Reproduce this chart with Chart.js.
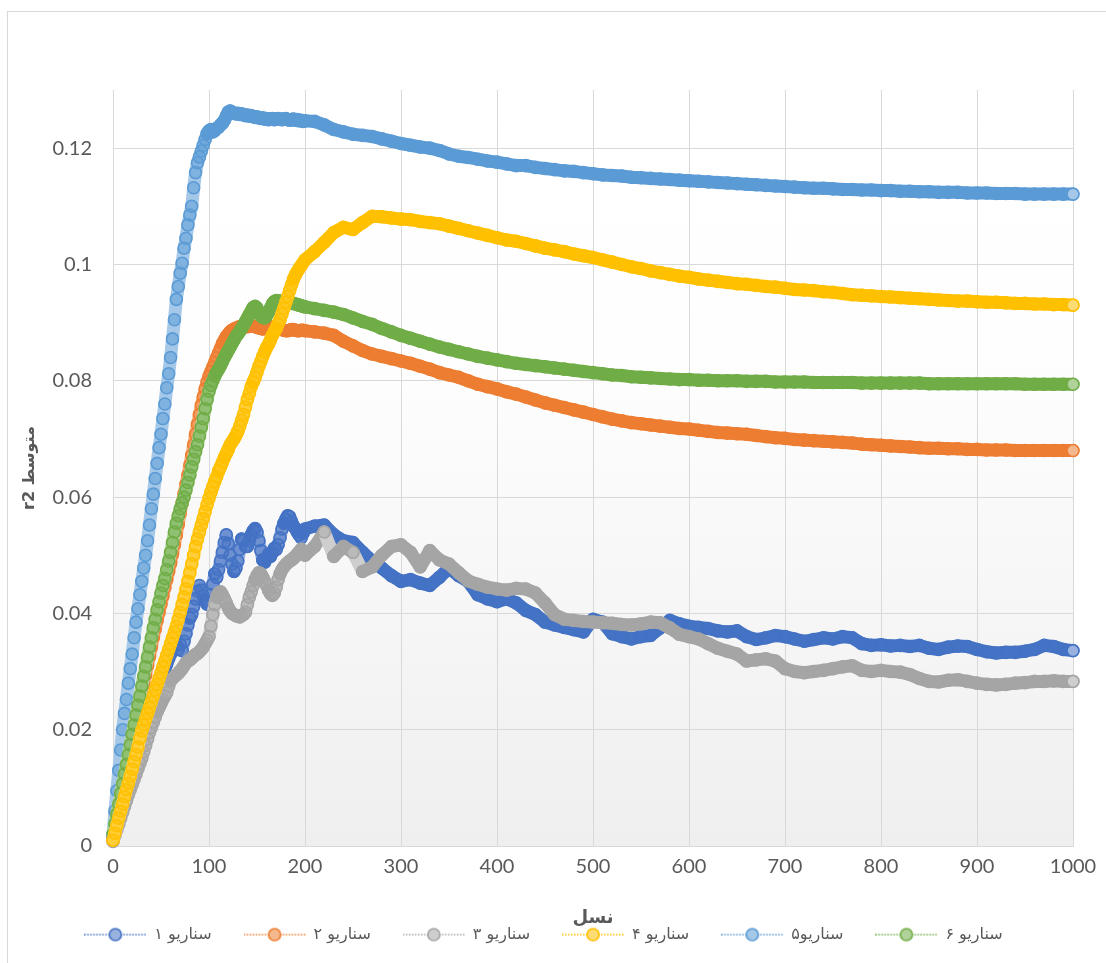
<!DOCTYPE html>
<html><head><meta charset="utf-8">
<script src="https://cdn.jsdelivr.net/npm/chart.js@4.4.1/dist/chart.umd.min.js"></script>
<style>html,body{margin:0;padding:0;background:#fff;}#wrap{position:relative;width:1106px;height:963px;}</style>
</head><body><div id="wrap"><canvas id="c" width="1106" height="963"></canvas></div>
<script>
// ---------- DATA ----------
const genEarly = [0,2,4,6,8,10,12,14,16,18,20,22,24,26,28,30,32,34,36,38,40,42,44,46,48,50,52,54,56,58,60,62,64,66,68,70,72,74,76,78,80,82,84,86,88,90,92,94,96,98,100,102,104,106,108,110,112,114,116,118,120,122,124,126,128,130,132,134,136,138,140,142,144,146,148,150,152,154,156,158,160,162,164,166,168,170,172,174,176,178,180,182,184,186,188,190,192,194,196,198,200];
const genLate = [210,220,230,240,250,260,270,280,290,300,310,320,330,340,350,360,370,380,390,400,410,420,430,440,450,460,470,480,490,500,510,520,530,540,550,560,570,580,590,600,610,620,630,640,650,660,670,680,690,700,710,720,730,740,750,760,770,780,790,800,810,820,830,840,850,860,870,880,890,900,910,920,930,940,950,960,970,980,990,1000];

const s1Early = [.0015,.0027,.0040,.0052,.0064,.0076,.0088,.0099,.0110,.0121,
.0132,.0143,.0154,.0165,.0176,.0187,.0197,.0207,.0217,.0227,
.0237,.0247,.0257,.0266,.0276,.0285,.0294,.0304,.0313,.0322,
.0330,.0342,.0352,.0345,.0338,.0346,.0336,.0352,.0365,.0380,
.0392,.0398,.0412,.0425,.0438,.0448,.0440,.0430,.0422,.0416,
.0420,.0432,.0450,.0468,.0462,.0475,.0490,.0505,.0522,.0535,
.0520,.0500,.0485,.0472,.0478,.0490,.0510,.0528,.0525,.0515,
.0515,.0525,.0535,.0542,.0546,.0540,.0525,.0508,.0492,.0488,
.0495,.0502,.0498,.0505,.0512,.0510,.0518,.0530,.0545,.0555,
.0562,.0568,.0566,.0558,.0550,.0546,.0540,.0535,.0530,.0538,
.0545];
const s1Late = [.0550,.0552,.0535,.0525,.0522,.0505,.0490,.0478,.0465,.0455,
.0458,.0452,.0448,.0462,.0478,.0465,.0455,.0432,.0425,.0420,
.0425,.0418,.0405,.0398,.0385,.0380,.0376,.0372,.0368,.0390,
.0385,.0365,.0360,.0356,.0360,.0362,.0375,.0388,.0382,.0378,
.0376,.0374,.0370,.0368,.0370,.0360,.0355,.0358,.0362,.0360,
.0356,.0352,.0355,.0358,.0356,.0360,.0358,.0348,.0345,.0346,
.0344,.0345,.0343,.0345,.0340,.0338,.0342,.0344,.0343,.0338,
.0334,.0332,.0333,.0333,.0335,.0338,.0345,.0343,.0338,.0336];

const s2Early = [.0010,.0028,.0045,.0062,.0078,.0095,.0112,.0128,.0145,.0162,
.0178,.0195,.0212,.0228,.0245,.0262,.0278,.0294,.0310,.0326,
.0342,.0358,.0373,.0388,.0402,.0416,.0430,.0444,.0458,.0472,
.0486,.0502,.0518,.0535,.0553,.0572,.0590,.0606,.0622,.0638,
.0655,.0672,.0690,.0708,.0725,.0742,.0758,.0772,.0786,.0798,
.0808,.0816,.0824,.0832,.0840,.0848,.0856,.0864,.0870,.0876,
.0880,.0884,.0887,.0889,.0890,.0892,.0893,.0894,.0895,.0894,
.0893,.0894,.0895,.0894,.0893,.0892,.0891,.0890,.0889,.0890,
.0891,.0892,.0893,.0892,.0891,.0890,.0890,.0889,.0888,.0887,
.0886,.0886,.0887,.0888,.0888,.0887,.0886,.0886,.0887,.0887,
.0886];
const s2Late = [.0884,.0882,.0878,.0868,.0860,.0852,.0846,.0842,.0838,.0834,
.0830,.0825,.0820,.0814,.0810,.0806,.0800,.0794,.0790,.0786,
.0781,.0777,.0772,.0767,.0762,.0758,.0754,.0750,.0746,.0742,
.0738,.0734,.0731,.0728,.0726,.0724,.0722,.0720,.0718,.0717,
.0715,.0713,.0711,.0710,.0709,.0708,.0706,.0704,.0702,.0701,
.0699,.0698,.0697,.0696,.0695,.0694,.0693,.0691,.0690,.0689,
.0688,.0687,.0686,.0685,.0684,.0684,.0683,.0683,.0682,.0682,
.0681,.0681,.0681,.0680,.0680,.0680,.0680,.0680,.0680,.0680];

const s3Early = [.0008,.0018,.0028,.0038,.0048,.0058,.0068,.0078,.0088,.0097,
.0106,.0115,.0124,.0133,.0142,.0151,.0162,.0173,.0184,.0195,
.0204,.0213,.0222,.0231,.0238,.0245,.0252,.0258,.0264,.0275,
.0284,.0288,.0291,.0294,.0297,.0301,.0305,.0310,.0315,.0318,
.0320,.0323,.0326,.0329,.0331,.0334,.0338,.0342,.0348,.0354,
.0360,.0378,.0398,.0415,.0428,.0435,.0437,.0432,.0425,.0418,
.0410,.0404,.0400,.0398,.0396,.0395,.0394,.0396,.0398,.0402,
.0415,.0428,.0437,.0448,.0458,.0465,.0470,.0468,.0462,.0455,
.0448,.0440,.0434,.0431,.0435,.0445,.0458,.0468,.0475,.0480,
.0484,.0487,.0490,.0492,.0495,.0498,.0502,.0506,.0510,.0506,
.0500];
const s3Late = [.0515,.0540,.0498,.0515,.0505,.0472,.0480,.0500,.0515,.0518,
.0505,.0480,.0508,.0492,.0485,.0470,.0456,.0450,.0445,.0442,
.0440,.0443,.0442,.0435,.0418,.0398,.0390,.0388,.0386,.0385,
.0384,.0383,.0381,.0380,.0382,.0385,.0384,.0375,.0364,.0360,
.0356,.0348,.0340,.0335,.0330,.0318,.0320,.0322,.0318,.0305,
.0300,.0298,.0300,.0302,.0305,.0308,.0310,.0302,.0300,.0302,
.0300,.0299,.0295,.0288,.0283,.0282,.0285,.0286,.0283,.0280,
.0278,.0277,.0278,.0280,.0281,.0283,.0283,.0284,.0283,.0283];

const s4Early = [.0010,.0022,.0035,.0048,.0060,.0072,.0085,.0097,.0108,.0120,
.0132,.0145,.0157,.0170,.0185,.0198,.0208,.0218,.0228,.0238,
.0248,.0258,.0268,.0278,.0288,.0298,.0308,.0318,.0328,.0338,
.0348,.0358,.0368,.0378,.0390,.0402,.0415,.0428,.0442,.0455,
.0470,.0485,.0500,.0515,.0528,.0540,.0552,.0563,.0575,.0587,
.0598,.0608,.0618,.0627,.0635,.0645,.0652,.0660,.0668,.0675,
.0682,.0690,.0695,.0700,.0706,.0713,.0722,.0732,.0742,.0755,
.0768,.0778,.0790,.0798,.0805,.0815,.0825,.0833,.0842,.0850,
.0857,.0863,.0870,.0878,.0884,.0890,.0898,.0905,.0915,.0925,
.0935,.0945,.0955,.0965,.0975,.0982,.0988,.0993,.0998,.1003,
.1008];
const s4Late = [.1022,.1038,.1055,.1064,.1060,.1072,.1083,.1082,.1080,.1078,
.1077,.1074,.1072,.1070,.1066,.1062,.1058,.1054,.1050,.1046,
.1042,.1040,.1036,.1032,.1028,.1025,.1022,.1018,.1015,.1012,
.1008,.1004,.1000,.0996,.0993,.0989,.0986,.0983,.0980,.0978,
.0975,.0973,.0971,.0969,.0967,.0966,.0964,.0962,.0961,.0959,
.0957,.0956,.0955,.0953,.0952,.0950,.0948,.0947,.0946,.0945,
.0944,.0943,.0942,.0941,.0940,.0939,.0938,.0937,.0937,.0936,
.0935,.0935,.0934,.0933,.0933,.0932,.0932,.0931,.0931,.0930];

const s5Early = [.0020,.0060,.0095,.0130,.0165,.0200,.0228,.0252,.0280,.0305,
.0330,.0358,.0385,.0408,.0432,.0455,.0478,.0500,.0525,.0552,
.0580,.0605,.0632,.0658,.0685,.0708,.0735,.0760,.0788,.0812,
.0840,.0872,.0905,.0940,.0962,.0985,.1002,.1028,.1045,.1068,
.1085,.1100,.1132,.1158,.1175,.1185,.1195,.1205,.1215,.1225,
.1230,.1232,.1228,.1230,.1234,.1236,.1240,.1243,.1248,.1255,
.1262,.1264,.1262,.1260,.1259,.1260,.1258,.1259,.1257,.1256,
.1257,.1255,.1256,.1254,.1253,.1254,.1252,.1251,.1252,.1250,
.1251,.1249,.1250,.1251,.1249,.1250,.1251,.1250,.1249,.1250,
.1251,.1249,.1248,.1249,.1250,.1248,.1249,.1247,.1248,.1246,
.1247];
const s5Late = [.1246,.1240,.1232,.1228,.1224,.1222,.1220,.1216,.1212,.1208,
.1205,.1202,.1200,.1196,.1190,.1186,.1184,.1181,.1178,.1176,
.1173,.1170,.1170,.1167,.1165,.1163,.1161,.1160,.1158,.1156,
.1154,.1153,.1152,.1150,.1149,.1148,.1147,.1146,.1145,.1144,
.1143,.1142,.1141,.1140,.1139,.1138,.1137,.1136,.1135,.1134,
.1133,.1132,.1131,.1131,.1130,.1129,.1129,.1128,.1128,.1127,
.1127,.1126,.1126,.1125,.1125,.1124,.1124,.1124,.1123,.1123,
.1123,.1122,.1122,.1122,.1121,.1121,.1121,.1121,.1121,.1121];

const s6Early = [.0020,.0038,.0055,.0072,.0090,.0107,.0124,.0140,.0157,.0174,
.0192,.0208,.0225,.0242,.0258,.0275,.0292,.0308,.0325,.0342,
.0358,.0375,.0390,.0406,.0420,.0435,.0448,.0460,.0475,.0490,
.0505,.0522,.0540,.0555,.0568,.0580,.0590,.0600,.0612,.0625,
.0638,.0652,.0665,.0678,.0690,.0705,.0720,.0735,.0752,.0768,
.0782,.0792,.0800,.0808,.0815,.0820,.0826,.0833,.0840,.0846,
.0852,.0858,.0864,.0870,.0876,.0880,.0885,.0890,.0896,.0902,
.0908,.0914,.0920,.0926,.0928,.0925,.0918,.0912,.0909,.0908,
.0912,.0918,.0925,.0932,.0936,.0938,.0937,.0937,.0936,.0936,
.0935,.0935,.0934,.0933,.0933,.0932,.0931,.0930,.0929,.0928,
.0927];
const s6Late = [.0924,.0921,.0918,.0914,.0908,.0902,.0897,.0890,.0884,.0878,
.0873,.0868,.0863,.0858,.0854,.0850,.0846,.0842,.0839,.0836,
.0833,.0830,.0828,.0826,.0824,.0822,.0820,.0818,.0816,.0814,
.0812,.0810,.0809,.0807,.0806,.0805,.0804,.0803,.0802,.0802,
.0801,.0801,.0800,.0800,.0800,.0799,.0799,.0799,.0798,.0798,
.0798,.0798,.0797,.0797,.0797,.0797,.0797,.0796,.0796,.0796,
.0796,.0796,.0796,.0796,.0795,.0795,.0795,.0795,.0795,.0795,
.0795,.0795,.0795,.0795,.0794,.0794,.0794,.0794,.0794,.0794];

const seriesNames = ['سناریو ۱','سناریو ۲','سناریو ۳','سناریو ۴','سناریو۵','سناریو ۶'];
const seriesColors = ['#4472C4','#ED7D31','#A5A5A5','#FFC000','#5B9BD5','#70AD47'];
const drawOrder = [6,3,5,1,4,2];
const xTicks = [0,100,200,300,400,500,600,700,800,900,1000];
const yTicks = [0,0.02,0.04,0.06,0.08,0.1,0.12];
const xTitle = 'نسل';
const yTitle = 'متوسط r2';

// ---------- BUILD ----------
const generations = genEarly.concat(genLate);
const seriesValues = [
  s1Early.concat(s1Late), s2Early.concat(s2Late), s3Early.concat(s3Late),
  s4Early.concat(s4Late), s5Early.concat(s5Late), s6Early.concat(s6Late)
];

function hexRgb(h){ const n = parseInt(h.slice(1),16); return [(n>>16)&255,(n>>8)&255,n&255]; }
function rgba(h,a){ const c=hexRgb(h); return `rgba(${c[0]},${c[1]},${c[2]},${a})`; }
function tint(h,f){ const c=hexRgb(h).map(v=>Math.round(v+(255-v)*f)); return `rgb(${c[0]},${c[1]},${c[2]})`; }

const steep = ctx => {
  const dx = Math.abs(ctx.p1.x - ctx.p0.x), dy = Math.abs(ctx.p1.y - ctx.p0.y);
  return dy > 1.6*dx + 1;
};

function makeIcon(color){
  const c = document.createElement('canvas'); c.width = 62; c.height = 16;
  const g = c.getContext('2d');
  g.strokeStyle = color; g.lineWidth = 1.5; g.setLineDash([1.5,1.5]);
  g.beginPath(); g.moveTo(0,8); g.lineTo(62,8); g.stroke();
  g.setLineDash([]);
  g.beginPath(); g.arc(31,8,6,0,Math.PI*2);
  g.fillStyle = tint(color,0.45); g.fill(); g.lineWidth = 1.7; g.stroke();
  return c;
}
const icons = seriesColors.map(makeIcon);

const datasets = seriesNames.map((name,i) => {
  const color = seriesColors[i];
  const vals = seriesValues[i];
  const n = vals.length;
  return {
    label: name,
    data: generations.map((g,k) => ({x: g, y: vals[k]})),
    borderColor: color,
    borderWidth: 13,
    borderCapStyle: 'round',
    borderJoinStyle: 'round',
    segment: { borderColor: ctx => steep(ctx) ? tint(color,0.45) : color },
    pointRadius: 6,
    pointHoverRadius: 6,
    pointBorderWidth: 1.6,
    pointBorderColor: color,
    pointBackgroundColor: ctx => (ctx.dataIndex === n-1) ? tint(color,0.45) : rgba(color,0.5),
    tension: 0,
    fill: false,
    clip: false,
    order: drawOrder[i]
  };
});

const bgPlugin = {
  id: 'bg',
  beforeDraw(chart){
    const {ctx, chartArea: a} = chart;
    ctx.save();
    ctx.fillStyle = '#ffffff';
    ctx.fillRect(0,0,chart.width,chart.height);
    const gr = ctx.createLinearGradient(0,a.top,0,a.bottom);
    gr.addColorStop(0,'#ffffff');
    gr.addColorStop(0.35,'#fefefe');
    gr.addColorStop(1,'#efefef');
    ctx.fillStyle = gr;
    ctx.fillRect(a.left,a.top,a.right-a.left,a.bottom-a.top);
    ctx.strokeStyle = '#d9d9d9'; ctx.lineWidth = 1;
    ctx.strokeRect(7.5,11.5,chart.width+10,chart.height+10);
    ctx.restore();
  }
};

Chart.defaults.font.family = 'Lato, "DejaVu Sans", sans-serif';
Chart.defaults.color = '#595959';

new Chart(document.getElementById('c'), {
  type: 'line',
  data: { datasets },
  options: {
    responsive: false,
    animation: false,
    devicePixelRatio: 1,
    layout: { padding: { left: 14, right: 33, top: 90, bottom: 10.4 } },
    plugins: {
      tooltip: { enabled: false },
      legend: {
        position: 'bottom',
        labels: {
          usePointStyle: true,
          pointStyleWidth: 62,
          padding: 32,
          color: '#595959',
          font: { family: '"DejaVu Sans"', size: 16 },
          generateLabels: chart => chart.data.datasets.map((ds,i) => ({
            text: ds.label, pointStyle: icons[i], fillStyle: ds.borderColor,
            strokeStyle: ds.borderColor, lineWidth: 0, hidden: false,
            datasetIndex: i, fontColor: '#595959'
          }))
        }
      }
    },
    scales: {
      x: {
        type: 'linear', min: 0, max: 1000,
        afterBuildTicks: s => { s.ticks = xTicks.map(v => ({value: v})); },
        afterFit: s => { s.height = 48.6; },
        grid: { color: '#d9d9d9', drawTicks: false },
        border: { color: '#d9d9d9' },
        ticks: { padding: 9, color: '#595959', font: { size: 20 },
          callback: v => String(v) },
        title: { display: true, text: xTitle, color: '#595959',
          font: { family: '"DejaVu Sans"', size: 18, weight: 'bold' },
          padding: { top: 0, bottom: -34.4 } }
      },
      y: {
        type: 'linear', min: 0, max: 0.13,
        afterBuildTicks: s => { s.ticks = yTicks.map(v => ({value: v})); },
        afterFit: s => { s.width = 99; },
        grid: { color: '#d9d9d9', drawTicks: false },
        border: { color: '#d9d9d9' },
        ticks: { padding: 21, color: '#595959', font: { size: 20 },
          callback: v => String(Math.round(v*100)/100) },
        title: { display: true, text: '\u202B' + yTitle + '\u202C', color: '#595959',
          font: { family: '"DejaVu Sans"', size: 16, weight: 'bold' },
          padding: { top: 6, bottom: 0 } }
      }
    }
  },
  plugins: [bgPlugin]
});
</script>
</body></html>
